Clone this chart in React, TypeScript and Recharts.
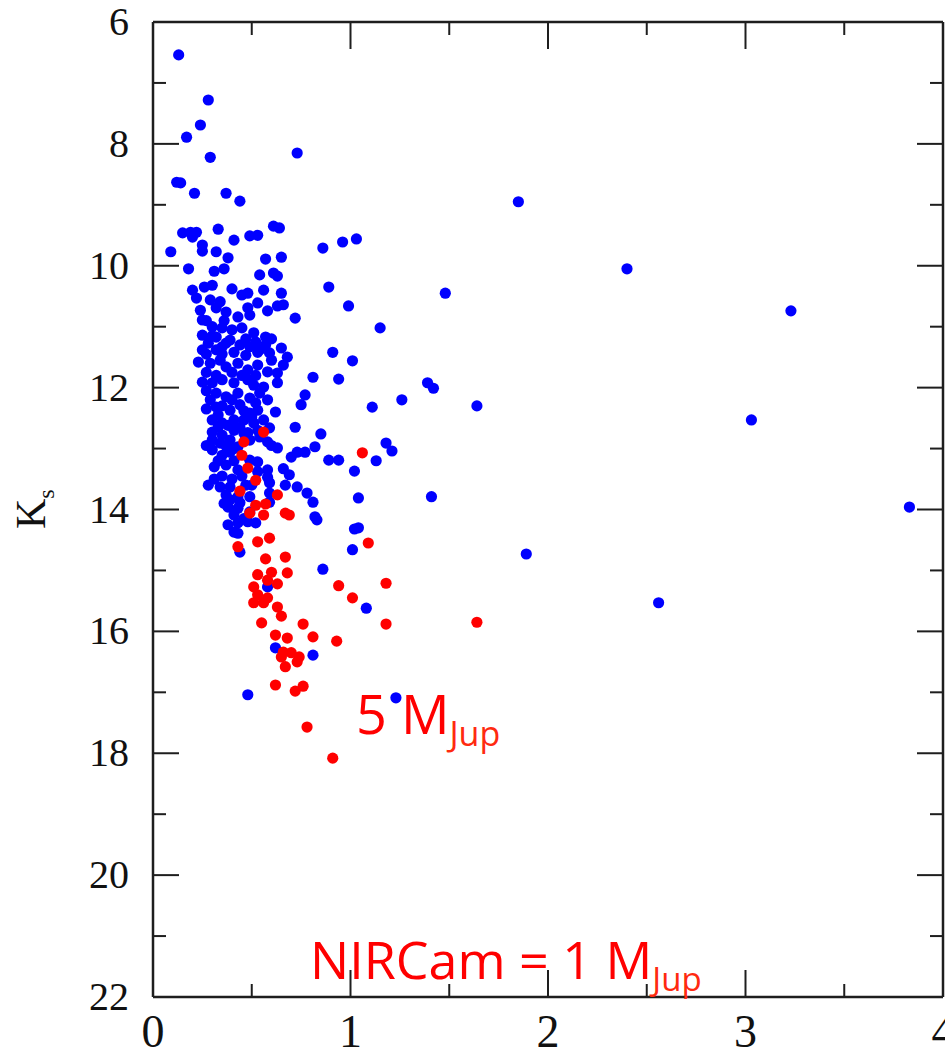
import React from 'react';
import { ScatterChart, Scatter, XAxis, YAxis } from 'recharts';

// colour (J-Ks) vs Ks
const blueStars: [number, number][] = [
  [0.13, 6.54], [0.28, 7.28], [0.24, 7.69], [0.17, 7.89], [0.29, 8.22], [0.73, 8.15], [0.14, 8.64], [0.12, 8.63],
  [0.21, 8.81], [0.37, 8.81], [0.44, 8.94], [0.15, 9.46], [0.19, 9.45], [0.22, 9.45], [0.2, 9.53], [0.33, 9.4],
  [0.41, 9.58], [0.49, 9.51], [0.53, 9.5], [0.61, 9.35], [0.64, 9.38], [0.09, 9.77], [0.25, 9.66], [0.25, 9.76],
  [0.32, 9.77], [0.38, 9.87], [0.57, 9.89], [0.65, 9.86], [0.86, 9.71], [0.96, 9.61], [1.03, 9.56], [0.18, 10.05],
  [0.31, 10.09], [0.36, 10.05], [0.54, 10.15], [0.61, 10.12], [0.63, 10.17], [0.2, 10.4], [0.26, 10.35], [0.3, 10.32],
  [0.4, 10.38], [0.45, 10.48], [0.48, 10.45], [0.56, 10.4], [0.65, 10.45], [0.89, 10.35], [0.22, 10.53], [0.29, 10.56],
  [0.34, 10.59], [0.53, 10.61], [0.24, 10.73], [0.32, 10.69], [0.37, 10.76], [0.48, 10.69], [0.49, 10.81], [0.58, 10.74],
  [0.63, 10.66], [0.66, 10.64], [0.72, 10.86], [0.99, 10.66], [0.25, 10.89], [0.3, 11.0], [0.35, 11.02], [0.43, 10.84],
  [0.45, 11.02], [0.51, 11.1], [0.57, 11.17], [0.25, 11.14], [0.32, 11.17], [0.39, 11.22], [0.65, 11.35], [0.91, 11.42],
  [0.25, 11.38], [0.32, 11.38], [0.41, 11.42], [0.54, 11.38], [0.59, 11.43], [1.15, 11.02], [1.01, 11.56], [1.48, 10.45],
  [0.28, 11.27], [0.37, 11.27], [0.44, 11.3], [0.49, 11.33], [0.53, 11.42], [0.57, 11.3], [0.23, 11.58], [0.29, 11.6],
  [0.34, 11.55], [0.37, 11.66], [0.43, 11.6], [0.48, 11.71], [0.53, 11.63], [0.58, 11.74], [0.63, 11.76], [0.66, 11.63],
  [0.81, 11.83], [0.94, 11.86], [0.25, 11.91], [0.3, 11.92], [0.35, 11.87], [0.41, 11.92], [0.48, 11.87], [0.51, 11.96],
  [0.56, 11.99], [0.63, 11.92], [0.32, 12.09], [0.37, 12.15], [0.43, 12.09], [0.49, 12.17], [0.54, 12.09], [0.77, 12.12],
  [0.75, 12.28], [0.32, 12.32], [0.39, 12.37], [0.44, 12.28], [0.49, 12.42], [0.53, 12.37], [0.3, 12.53], [0.35, 12.58],
  [0.41, 12.53], [0.46, 12.53], [0.51, 12.58], [0.56, 12.53], [0.72, 12.65], [0.85, 12.76], [0.3, 12.73], [0.35, 12.78],
  [0.41, 12.7], [0.48, 12.74], [0.53, 12.7], [0.59, 12.66], [0.3, 12.86], [0.34, 12.91], [0.39, 12.86], [0.43, 12.97],
  [0.49, 12.86], [0.54, 12.81], [0.58, 12.89], [0.63, 12.99], [0.3, 13.02], [0.35, 13.11], [0.39, 13.06], [0.53, 13.22],
  [0.49, 13.19], [0.7, 13.14], [0.73, 13.06], [0.77, 13.06], [0.82, 12.97], [0.89, 13.19], [0.94, 13.19], [0.31, 13.3],
  [0.37, 13.27], [0.43, 13.35], [0.53, 13.38], [0.58, 13.35], [0.69, 13.43], [0.66, 13.33], [0.28, 13.6], [0.34, 13.63],
  [0.39, 13.63], [0.58, 13.47], [0.59, 13.56], [0.67, 13.6], [0.73, 13.63], [0.78, 13.73], [0.81, 13.88], [0.37, 13.76],
  [0.43, 13.79], [0.49, 13.79], [0.59, 13.73], [0.38, 13.96], [0.43, 13.98], [0.49, 14.04], [0.82, 14.12], [0.39, 13.84],
  [0.44, 13.89], [0.59, 13.88], [0.41, 14.09], [0.43, 14.22], [0.48, 14.2], [0.52, 14.22], [0.41, 14.37], [0.43, 14.39],
  [0.83, 14.17], [0.44, 14.7], [0.86, 14.98], [0.58, 15.27], [0.62, 16.27], [0.81, 16.39], [0.48, 17.04], [1.23, 17.09],
  [1.39, 11.92], [1.42, 12.01], [1.11, 12.32], [1.26, 12.2], [1.64, 12.3], [1.18, 12.91], [1.21, 13.04], [1.13, 13.2],
  [1.02, 13.37], [1.04, 13.81], [1.41, 13.79], [1.02, 14.32], [1.04, 14.3], [1.01, 14.66], [1.08, 15.62],
  [1.85, 8.95], [2.4, 10.05], [3.23, 10.74], [3.03, 12.53], [3.83, 13.96], [1.89, 14.73], [2.56, 15.53],
];

// the packed core of the sequence, where the dots overlap
const blueCore: [number, number][] = [
  [0.27, 10.9], [0.36, 10.9], [0.4, 11.05], [0.3, 11.15], [0.35, 11.33], [0.47, 11.2], [0.52, 11.25], [0.6, 11.2],
  [0.6, 11.55], [0.68, 11.5], [0.27, 11.45], [0.35, 11.45], [0.47, 11.47], [0.27, 11.75], [0.32, 11.8], [0.4, 11.75],
  [0.45, 11.8], [0.52, 11.8], [0.27, 12.05], [0.29, 12.2], [0.35, 12.3], [0.4, 12.2], [0.46, 12.38], [0.52, 12.25],
  [0.58, 12.2], [0.27, 12.35], [0.33, 12.45], [0.38, 12.62], [0.44, 12.65], [0.5, 12.48], [0.33, 12.65], [0.27, 12.95],
  [0.37, 12.96], [0.46, 12.75], [0.41, 13.0], [0.33, 13.2], [0.41, 13.2], [0.45, 13.45], [0.35, 13.45], [0.31, 13.5],
  [0.4, 13.5], [0.47, 13.6], [0.36, 13.9], [0.46, 14.15], [0.38, 14.25], [0.5, 13.6], [0.62, 12.4], [0.6, 12.95],
];

const redStars: [number, number][] = [
  [0.56, 12.73], [0.46, 12.89], [0.45, 13.11], [0.48, 13.32], [0.52, 13.52], [0.44, 13.7], [0.63, 13.76], [0.52, 13.93],
  [0.57, 13.91], [0.56, 14.09], [0.67, 14.06], [0.69, 14.09], [0.49, 14.06], [0.43, 14.61], [0.53, 14.53], [0.59, 14.47],
  [0.57, 14.81], [0.67, 14.78], [0.53, 15.07], [0.6, 15.03], [0.68, 15.04], [0.58, 15.16], [0.63, 15.22], [0.51, 15.27],
  [0.53, 15.4], [0.58, 15.45], [0.51, 15.53], [0.56, 15.53], [0.94, 15.25], [0.63, 15.6], [0.65, 15.75], [0.55, 15.86],
  [0.76, 15.88], [0.62, 16.06], [0.68, 16.11], [0.81, 16.09], [0.93, 16.16], [0.66, 16.34], [0.7, 16.35], [0.74, 16.42],
  [0.73, 16.5], [0.65, 16.42], [0.67, 16.58], [0.62, 16.88], [0.72, 16.98], [0.76, 16.9], [0.78, 17.57], [0.91, 18.08],
  [1.06, 13.07], [1.09, 14.55], [1.18, 15.21], [1.18, 15.88], [1.64, 15.85], [1.01, 15.45],
];

const xTicks = [0, 0.5, 1, 1.5, 2, 2.5, 3, 3.5, 4];
const yTicks = [6, 7, 8, 9, 10, 11, 12, 13, 14, 15, 16, 17, 18, 19, 20, 21, 22];

const AXIS = '#1e1e1e';
const TICK_FONT = '"Liberation Serif", "DejaVu Serif", serif';
const NOTE_FONT = '"Open Sans", "Noto Sans", sans-serif';

const W = 945;
const H = 1058;
const MARGIN = { top: 21, right: 1, bottom: 0, left: 0 };
const X_AXIS_H = 61;
const Y_AXIS_W = 153;
// size of the plotting box (frame axes are 1px)
const PLOT_W = W - MARGIN.left - MARGIN.right - Y_AXIS_W - 1;
const PLOT_H = H - MARGIN.top - MARGIN.bottom - X_AXIS_H - 1;

const toPoints = (arr: [number, number][]) => arr.map(([x, y]) => ({ x, y }));
const bluePoints = toPoints([...blueStars, ...blueCore]);
const redPoints = toPoints(redStars);

// bottom tick also draws its twin on the top frame
const BottomTick = ({ x, y, payload }: any) => {
  const len = Number.isInteger(payload.value) ? 27 : 13;
  const top = y - PLOT_H;
  return (
    <g>
      <line x1={x} y1={y} x2={x} y2={y - len} stroke={AXIS} strokeWidth={2} />
      <line x1={x} y1={top} x2={x} y2={top + len} stroke={AXIS} strokeWidth={2} />
      {len > 20 && (
        <text x={x} y={y + 50} textAnchor="middle" fontFamily={TICK_FONT} fontSize={46} fill="#111">
          {payload.value}
        </text>
      )}
    </g>
  );
};

// left tick also draws its twin on the right frame
const LeftTick = ({ x, y, payload }: any) => {
  const len = payload.value % 2 === 0 ? 26 : 13;
  const right = x + PLOT_W;
  return (
    <g>
      <line x1={x} y1={y} x2={x + len} y2={y} stroke={AXIS} strokeWidth={2} />
      <line x1={right} y1={y} x2={right - len} y2={y} stroke={AXIS} strokeWidth={2} />
      {len > 20 && (
        <text x={x - 24} y={y + 13} textAnchor="end" fontFamily={TICK_FONT} fontSize={40} fill="#111">
          {payload.value}
        </text>
      )}
    </g>
  );
};

const dot = (color: string) => (p: any) => <circle cx={p.cx} cy={p.cy} r={5.6} fill={color} />;

export default function App() {
  const axisLine = { stroke: AXIS, strokeWidth: 2.5 };
  return (
    <div style={{ position: 'absolute', left: 0, top: 0, width: W, height: H, overflow: 'hidden', background: '#fff' }}>
      <ScatterChart width={W} height={H} margin={MARGIN}>
        <XAxis
          xAxisId="b" dataKey="x" type="number" domain={[0, 4]} ticks={xTicks} interval={0}
          height={X_AXIS_H} axisLine={axisLine} tickLine={false} tickSize={0} tickMargin={0} tick={<BottomTick />}
        />
        <XAxis
          xAxisId="t" orientation="top" dataKey="x" type="number" domain={[0, 4]} ticks={xTicks}
          height={1} axisLine={axisLine} tickLine={false} tick={false}
        />
        <YAxis
          yAxisId="l" dataKey="y" type="number" domain={[6, 22]} reversed ticks={yTicks} interval={0}
          width={Y_AXIS_W} axisLine={axisLine} tickLine={false} tickSize={0} tickMargin={0} tick={<LeftTick />}
        />
        <YAxis
          yAxisId="r" orientation="right" dataKey="y" type="number" domain={[6, 22]} reversed ticks={yTicks}
          width={1} axisLine={axisLine} tickLine={false} tick={false}
        />
        <Scatter xAxisId="b" yAxisId="l" data={bluePoints} shape={dot('#0000ff')} isAnimationActive={false} />
        <Scatter xAxisId="b" yAxisId="l" data={redPoints} shape={dot('#ff0000')} isAnimationActive={false} />
      </ScatterChart>
      <svg width={W} height={H} style={{ position: 'absolute', left: 0, top: 0, pointerEvents: 'none' }}>
        <text transform="translate(45,529) rotate(-90)" fontFamily={TICK_FONT} fontSize={42} fill="#111">
          K<tspan fontSize={24} dy={9}>s</tspan>
        </text>
        <text x={356} y={734} fontFamily={NOTE_FONT} fontSize={54} fill="#ff0000">
          5 M<tspan fontSize={34} dy={12} fill="#ff2a10">Jup</tspan>
        </text>
        <text x={310} y={979} fontFamily={NOTE_FONT} fontSize={52} fill="#ff0000">
          NIRCam = 1 M<tspan fontSize={33} dy={12} fill="#ff2a10">Jup</tspan>
        </text>
      </svg>
    </div>
  );
}
